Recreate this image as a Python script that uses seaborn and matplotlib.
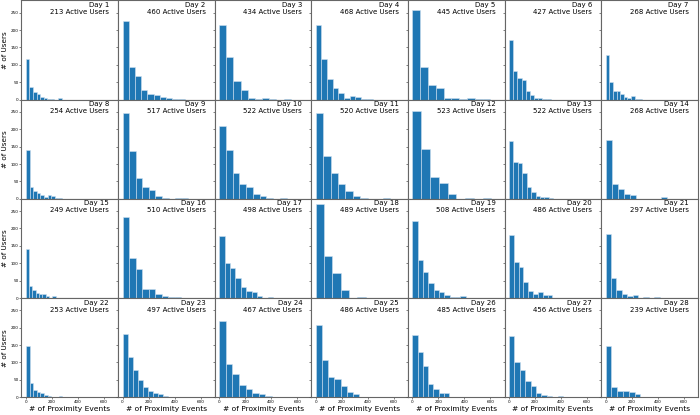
import numpy as np
import pandas as pd
import matplotlib
matplotlib.use("Agg")
import matplotlib.pyplot as plt
import seaborn as sns

days = list(range(1, 29))
active_users = [213, 460, 434, 468, 445, 427, 268,
                254, 517, 522, 520, 523, 522, 268,
                249, 510, 498, 489, 508, 486, 297,
                253, 497, 467, 486, 485, 456, 239]
# maximum number of proximity events per day (upper edge of the histogram range)
max_events = [274, 477, 550, 436, 600, 320, 278,
              278, 505, 518, 570, 675, 340, 470,
              254, 503, 415, 640, 410, 370, 415,
              280, 390, 508, 477, 405, 415, 446]
# users per bin (10 equal bins from 0 to max_events)
counts = [
    [118, 37, 23, 15, 8, 4, 3, 1, 0, 4],
    [226, 95, 68, 28, 16, 12, 7, 4, 2, 2],
    [215, 122, 54, 28, 6, 3, 4, 1, 0, 1],
    [215, 118, 58, 33, 18, 4, 10, 7, 3, 2],
    [258, 95, 41, 32, 5, 5, 1, 4, 2, 2],
    [172, 81, 63, 56, 26, 14, 5, 4, 3, 3],
    [127, 52, 24, 24, 15, 8, 4, 10, 3, 1],
    [139, 33, 23, 18, 11, 6, 12, 8, 2, 2],
    [247, 137, 60, 35, 24, 9, 2, 0, 2, 1],
    [210, 139, 74, 43, 33, 13, 7, 2, 0, 1],
    [247, 124, 73, 43, 22, 8, 2, 0, 0, 1],
    [252, 144, 64, 45, 15, 0, 2, 0, 1, 0],
    [167, 106, 103, 73, 33, 20, 9, 5, 4, 2],
    [170, 43, 28, 13, 10, 0, 0, 0, 0, 4],
    [140, 35, 22, 14, 13, 11, 5, 1, 7, 1],
    [233, 116, 84, 26, 27, 12, 5, 4, 2, 1],
    [178, 102, 86, 57, 32, 19, 16, 5, 1, 2],
    [271, 120, 71, 23, 1, 3, 0, 0, 0, 0],
    [220, 110, 75, 42, 24, 17, 10, 2, 3, 5],
    [181, 104, 89, 45, 21, 12, 16, 9, 8, 1],
    [184, 58, 23, 12, 5, 10, 1, 2, 0, 2],
    [146, 41, 21, 14, 13, 6, 3, 2, 2, 5],
    [181, 115, 78, 50, 29, 18, 13, 8, 4, 1],
    [218, 97, 66, 35, 23, 12, 9, 3, 2, 2],
    [208, 108, 57, 52, 31, 16, 10, 2, 1, 1],
    [179, 129, 89, 37, 24, 12, 12, 2, 1, 0],
    [175, 100, 77, 46, 32, 12, 6, 3, 1, 4],
    [146, 30, 19, 19, 15, 8, 0, 1, 1, 0],
]
x_ticks = [0, 200, 400, 600]
y_ticks = [0, 50, 100, 150, 200, 250]

fig, axes = plt.subplots(4, 7, figsize=(7, 4.15), dpi=100, sharex=True, sharey=True)
fig.subplots_adjust(left=0.0307, right=0.997, top=0.999, bottom=0.0427,
                    wspace=0, hspace=0)

for i, ax in enumerate(axes.flat):
    edges = np.linspace(0, max_events[i], len(counts[i]) + 1)
    centers = (edges[:-1] + edges[1:]) / 2
    df = pd.DataFrame({"events": centers, "users": counts[i]})
    sns.histplot(data=df, x="events", weights="users", bins=[float(e) for e in edges],
                 ax=ax, color="#1f77b4", alpha=1, edgecolor="#cfe0f0", linewidth=0.4)
    ax.set_xlabel("")
    ax.set_ylabel("")
    ax.text(0.905, 0.985, f"Day {days[i]}\n{active_users[i]} Active Users",
            transform=ax.transAxes, ha="right", va="top", fontsize=5.0,
            linespacing=1.2)
    for s in ax.spines.values():
        s.set_color("0.4")
        s.set_linewidth(0.8)
    ax.tick_params(axis="both", labelsize=3.0, length=1.6, width=0.5,
                   pad=0.6, color="0.3")

axes[0, 0].set_xlim(-33.75, 708.75)
axes[0, 0].set_ylim(0, 285)
axes[0, 0].set_xticks(x_ticks)
axes[0, 0].set_yticks(y_ticks)

for r in range(4):
    axes[r, 0].set_ylabel("# of Users", fontsize=5.2)
    axes[r, 0].yaxis.set_label_coords(-0.14, 0.5)
for c in range(7):
    axes[3, c].set_xlabel("# of Proximity Events", fontsize=5.4)
    axes[3, c].xaxis.set_label_coords(0.5, -0.085)

fig.savefig("out.png", dpi=100)
